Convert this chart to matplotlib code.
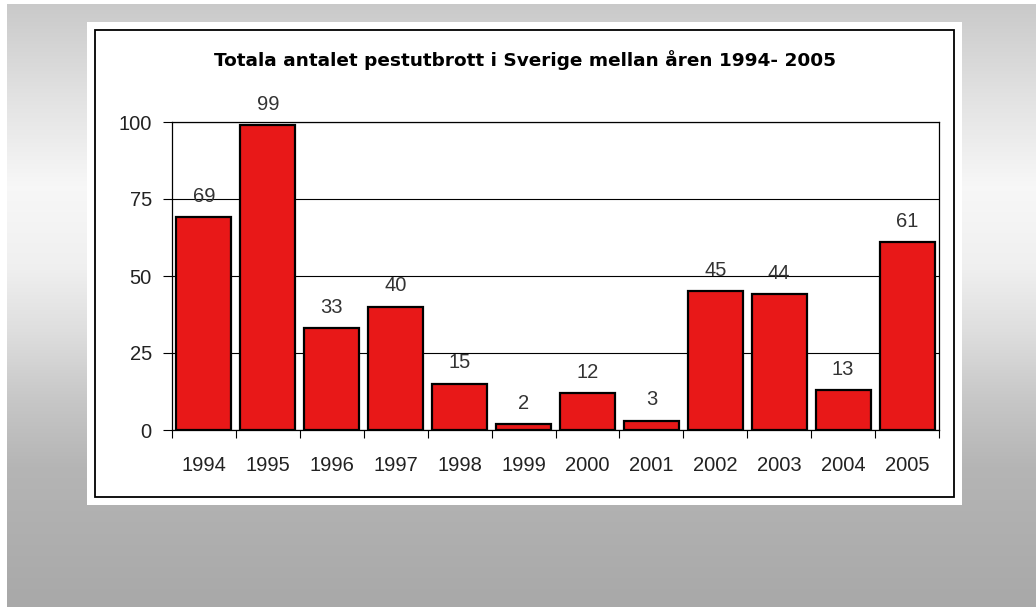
import numpy as np
import matplotlib
matplotlib.use("Agg")
import matplotlib.pyplot as plt
from matplotlib.patches import Rectangle

# ---- data ----
years = ["1994", "1995", "1996", "1997", "1998", "1999",
         "2000", "2001", "2002", "2003", "2004", "2005"]
outbreaks = [69, 99, 33, 40, 15, 2, 12, 3, 45, 44, 13, 61]
y_ticks = [0, 25, 50, 75, 100]
title = "Totala antalet pestutbrott i Sverige mellan åren 1994- 2005"

W, H = 1036, 608
plt.rcParams['font.family'] = ['Liberation Sans', 'DejaVu Sans']

fig = plt.figure(figsize=(W / 100, H / 100), dpi=100)
fig.patch.set_facecolor('white')

# ---- background gradient (slide) ----
bg = fig.add_axes([0, 0, 1, 1])
bg.set_xlim(0, W)
bg.set_ylim(H, 0)
bg.axis('off')
stops_y = [4, 33, 100, 187, 267, 333, 400, 467, 608]
stops_v = [0.79, 0.82, 0.89, 0.97, 0.94, 0.87, 0.78, 0.71, 0.66]
yy = np.arange(4, 608)
vals = np.interp(yy, stops_y, stops_v)
img = np.repeat(vals[:, None], 2, axis=1)
img = np.dstack([img, img, img])
bg.imshow(img, extent=[7, W, 607, 4], aspect='auto', interpolation='bilinear', zorder=0)
bg.add_patch(Rectangle((87, 22), 962 - 87, 505 - 22, facecolor='white', edgecolor='none', zorder=1))
bg.add_patch(Rectangle((95, 30), 954 - 95, 497 - 30, facecolor='white', edgecolor='black', lw=1.3, zorder=2))

# ---- chart ----
left, right, top, bottom = 172, 939, 122, 430
ax = fig.add_axes([left / W, 1 - bottom / H, (right - left) / W, (bottom - top) / H])
ax.set_facecolor('white')
x = np.arange(len(years))
ax.bar(x, outbreaks, width=0.86, color='#e81818', edgecolor='black', linewidth=1.6, zorder=2)
ax.set_xlim(-0.5, len(years) - 0.5)
ax.set_ylim(0, 100)
ax.set_yticks(y_ticks)
ax.yaxis.grid(True, color='black', linewidth=0.8, zorder=1)
ax.set_axisbelow(True)
for s in ax.spines.values():
    s.set_color('black')
    s.set_linewidth(0.9)
ax.tick_params(axis='y', length=6.5, width=0.8, pad=8, labelsize=14.5, labelcolor='#222222')
ax.set_xticks(x)
ax.set_xticklabels(years)
ax.tick_params(axis='x', which='major', length=0, pad=19, labelsize=14.5, labelcolor='#222222')
ax.set_xticks(np.arange(-0.5, len(years), 1.0), minor=True)
ax.tick_params(axis='x', which='minor', length=5.5, width=0.8, direction='out')

for xi, v in zip(x, outbreaks):
    ax.annotate(str(v), (xi, v), xytext=(0, 15), textcoords='offset points',
                ha='center', va='center', fontsize=14.5, color='#333333', zorder=3)

fig.text(524.5 / W, 1 - 66 / H, title, ha='center', va='baseline',
         fontsize=13.3, fontweight='bold', color='black', family=['DejaVu Sans'])

fig.savefig('out.png', dpi=100)
